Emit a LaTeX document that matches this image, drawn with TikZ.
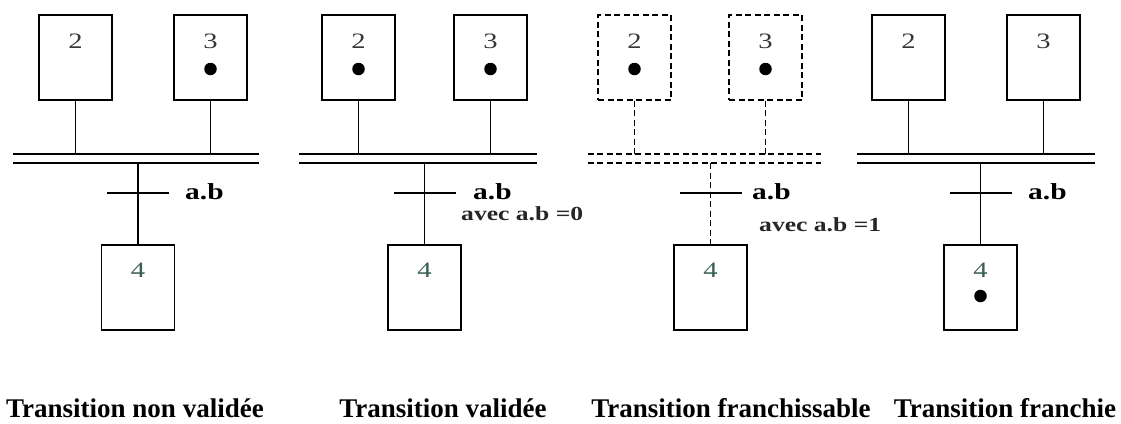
\documentclass[tikz,border=0pt]{standalone}
\usepackage{fontspec}
\setmainfont{Liberation Serif}
\newfontfamily\widefont{Liberation Serif}[FakeStretch=1.3]
\newfontfamily\widebold{Liberation Serif Bold}[FakeStretch=1.28]
\definecolor{digitcol}{RGB}{55,55,55}
\definecolor{fourcol}{RGB}{55,95,85}
\tikzset{
  stepbox/.style={draw, line width=1.5pt, minimum width=73, minimum height=85, inner sep=0},
  dashbox/.style={stepbox, dash pattern=on 6pt off 3.5pt},
  barnode/.style={minimum height=9, inner sep=0},
  wire/.style={line width=1.5pt},
  dwire/.style={line width=1.5pt, dash pattern=on 6pt off 3.5pt},
  digit/.style={font=\widefont\fontsize{22}{22}\selectfont, text=digitcol, inner sep=0},
  four/.style={digit, text=fourcol},
  tok/.style={circle, fill=black, minimum size=12.5, inner sep=0},
  cond/.style={font=\widebold\fontsize{23}{23}\selectfont, anchor=west, inner sep=0},
  avec/.style={font=\widebold\fontsize{20}{20}\selectfont, anchor=west, inner sep=0, text=black!85},
  caption/.style={font=\bfseries\fontsize{27}{27}\selectfont, anchor=base, inner sep=0}
}
\begin{document}
\begin{tikzpicture}[x=1pt,y=-1pt]
\useasboundingbox (0,0) rectangle (1121,423);

% ---------- Panel 1 : Transition non validee ----------
\node[stepbox] (p1s2) at (75.5,57.5) {};
\node[stepbox] (p1s3) at (210.5,57.5) {};
\node[digit] (p1d2) at (75.5,41) {2};
\node[digit] (p1d3) at (210.5,41) {3};
\node[tok] (p1k3) at (210.5,69) {};
\node[barnode, minimum width=246] (p1bar) at (136,158.5) {};
\draw[wire] (p1bar.north west) -- (p1bar.north east);
\draw[wire] (p1bar.south west) -- (p1bar.south east);
\node[stepbox] (p1s4) at (138,287.5) {};
\node[four] (p1d4) at (138,270) {4};
\draw[wire] (p1s2.south) -- (p1s2.south |- p1bar.north);
\draw[wire] (p1s3.south) -- (p1s3.south |- p1bar.north);
\draw[wire] (p1s4.north |- p1bar.south) -- (p1s4.north);
\coordinate (p1t) at (138,193);
\draw[wire] ([xshift=-31pt]p1t) -- ([xshift=31pt]p1t);
\node[cond] (p1c) at (185,192) {a.b};
\node[caption] (p1cap) at (135,417) {Transition non validée};

% ---------- Panel 2 : Transition validee ----------
\node[stepbox] (p2s2) at (358.5,57.5) {};
\node[stepbox] (p2s3) at (490.5,57.5) {};
\node[digit] (p2d2) at (358.5,41) {2};
\node[digit] (p2d3) at (490.5,41) {3};
\node[tok] (p2k2) at (358.5,69) {};
\node[tok] (p2k3) at (490.5,69) {};
\node[barnode, minimum width=238] (p2bar) at (418,158.5) {};
\draw[wire] (p2bar.north west) -- (p2bar.north east);
\draw[wire] (p2bar.south west) -- (p2bar.south east);
\node[stepbox] (p2s4) at (424.5,287.5) {};
\node[four] (p2d4) at (424.5,270) {4};
\draw[wire] (p2s2.south) -- (p2s2.south |- p2bar.north);
\draw[wire] (p2s3.south) -- (p2s3.south |- p2bar.north);
\draw[wire] (p2s4.north |- p2bar.south) -- (p2s4.north);
\coordinate (p2t) at (424.5,193);
\draw[wire] ([xshift=-31pt]p2t) -- ([xshift=31pt]p2t);
\node[cond] (p2c) at (473,192) {a.b};
\node[avec] (p2a) at (461,214) {avec a.b =0};
\node[caption] (p2cap) at (443,417) {Transition validée};

% ---------- Panel 3 : Transition franchissable ----------
\node[dashbox] (p3s2) at (634.5,57.5) {};
\node[dashbox] (p3s3) at (765.5,57.5) {};
\node[digit] (p3d2) at (634.5,41) {2};
\node[digit] (p3d3) at (765.5,41) {3};
\node[tok] (p3k2) at (634.5,69) {};
\node[tok] (p3k3) at (765.5,69) {};
\node[barnode, minimum width=233] (p3bar) at (704.5,158.5) {};
\draw[dwire] (p3bar.north west) -- (p3bar.north east);
\draw[dwire] (p3bar.south west) -- (p3bar.south east);
\node[stepbox] (p3s4) at (710.5,287.5) {};
\node[four] (p3d4) at (710.5,270) {4};
\draw[dwire] (p3s2.south) -- (p3s2.south |- p3bar.north);
\draw[dwire] (p3s3.south) -- (p3s3.south |- p3bar.north);
\draw[dwire] (p3s4.north |- p3bar.south) -- (p3s4.north);
\coordinate (p3t) at (710.5,193);
\draw[wire] ([xshift=-31pt]p3t) -- ([xshift=31pt]p3t);
\node[cond] (p3c) at (752,192) {a.b};
\node[avec] (p3a) at (759,225) {avec a.b =1};
\node[caption] (p3cap) at (731,417) {Transition franchissable};

% ---------- Panel 4 : Transition franchie ----------
\node[stepbox] (p4s2) at (908.5,57.5) {};
\node[stepbox] (p4s3) at (1043.5,57.5) {};
\node[digit] (p4d2) at (908.5,41) {2};
\node[digit] (p4d3) at (1043.5,41) {3};
\node[barnode, minimum width=238] (p4bar) at (976,158.5) {};
\draw[wire] (p4bar.north west) -- (p4bar.north east);
\draw[wire] (p4bar.south west) -- (p4bar.south east);
\node[stepbox] (p4s4) at (980.5,287.5) {};
\node[four] (p4d4) at (980.5,270) {4};
\node[tok] (p4k4) at (980.5,296) {};
\draw[wire] (p4s2.south) -- (p4s2.south |- p4bar.north);
\draw[wire] (p4s3.south) -- (p4s3.south |- p4bar.north);
\draw[wire] (p4s4.north |- p4bar.south) -- (p4s4.north);
\coordinate (p4t) at (980.5,193);
\draw[wire] ([xshift=-31pt]p4t) -- ([xshift=31pt]p4t);
\node[cond] (p4c) at (1028,192) {a.b};
\node[caption] (p4cap) at (1005,417) {Transition franchie};
\end{tikzpicture}
\end{document}
